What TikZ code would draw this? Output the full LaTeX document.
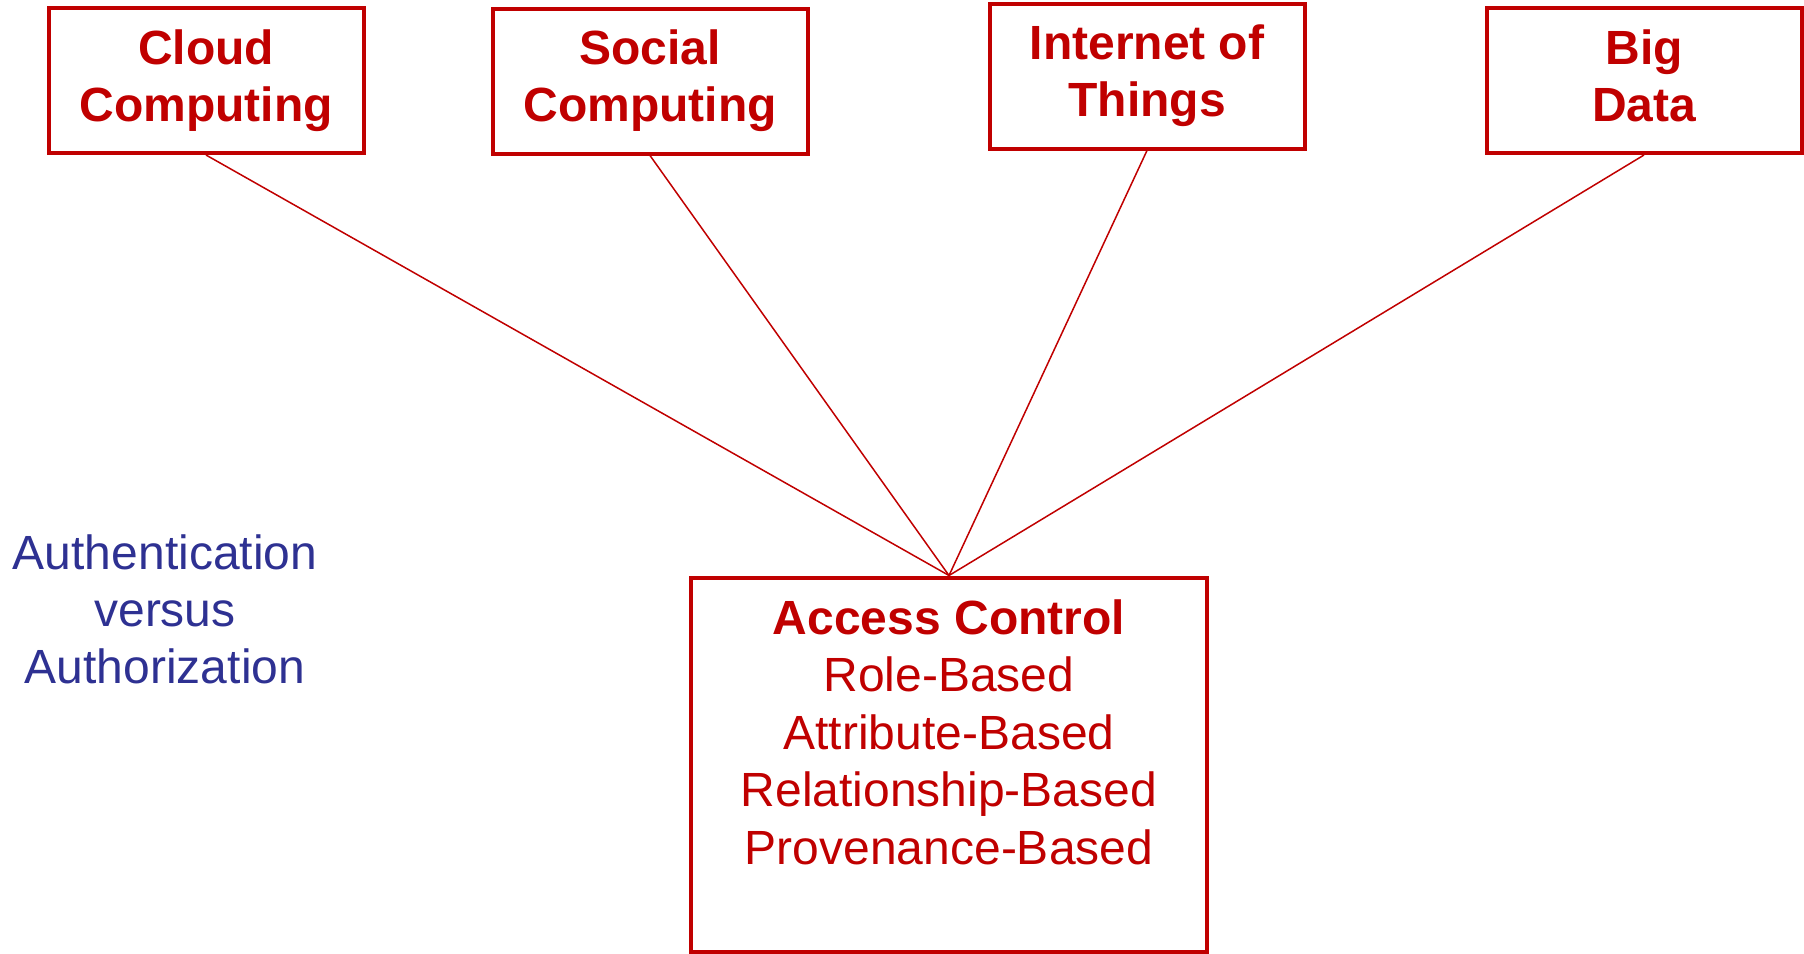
\documentclass[tikz,border=0pt]{standalone}
\usepackage{fontspec}
\setmainfont{Liberation Sans}
\definecolor{acred}{HTML}{C00000}
\definecolor{acblue}{HTML}{2E3192}
\begin{document}
\begin{tikzpicture}[x=1pt,y=-1pt,
  topbox/.style={draw=acred, line width=4pt, minimum width=315pt, minimum height=145pt,
    inner sep=0pt, text=acred, font=\bfseries\fontsize{48}{57}\selectfont, align=center},
  bigbox/.style={draw=acred, line width=4pt, minimum width=515.5pt, minimum height=374pt, inner sep=0pt},
  boxtext/.style={text=acred, font=\fontsize{48}{57.5}\selectfont, align=center, inner sep=0pt, anchor=north},
  sidetext/.style={text=acblue, font=\fontsize{48}{57}\selectfont, align=center, inner sep=0pt, anchor=north},
  conn/.style={draw=acred, line width=1.5pt}]
\useasboundingbox (0,0) rectangle (1804,953);
\node[topbox] (cloud) at (206,80.5) {Cloud\\Computing};
\node[topbox] (social) at (650,81) {Social\\Computing};
\node[topbox] (iot) at (1147,76) {Internet of\\Things};
\node[topbox] (bigdata) at (1644,80.5) {Big\\Data\vphantom{g}};
\node[bigbox] (ac) at (949,764.5) {};
\node[boxtext] (actext) at (949,599.5) {\textbf{Access Control}\\Role-Based\\Attribute-Based\\Relationship-Based\\Provenance-Based};
\node[sidetext] (auth) at (165,535) {Authentication\\versus\\Authorization};
\draw[conn] (cloud.south) -- (ac.north);
\draw[conn] (social.south) -- (ac.north);
\draw[conn] (iot.south) -- (ac.north);
\draw[conn] (bigdata.south) -- (ac.north);
\end{tikzpicture}
\end{document}
